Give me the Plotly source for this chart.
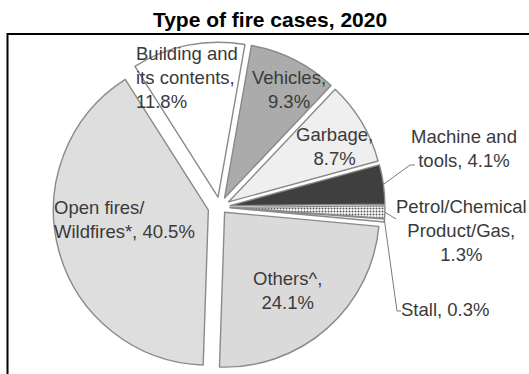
import math
import plotly.graph_objects as go

# ---- data ----
categories = ["Vehicles", "Garbage", "Machine and tools", "Petrol/Chemical Product/Gas",
              "Stall", "Others^", "Open fires/Wildfires*", "Building and its contents"]
values = [9.3, 8.7, 4.1, 1.3, 0.3, 24.1, 40.5, 11.8]
label_templates = ["Vehicles,<br>{}%", "Garbage,<br>{}%", "Machine and<br>tools, {}%",
                   "Petrol/Chemical<br>Product/Gas,<br>{}%", "Stall, {}%", "Others^,<br>{}%",
                   "Open fires/<br>Wildfires*, {}%", "Building and<br>its contents,<br>{}%"]
title_text = "Type of fire cases, 2020"

# ---- styles ----
colors = ["#ababab", "#efefef", "#3f3f3f", "#a3a3a3", "#ffffff", "#dadada", "#dedede", "#ffffff"]
patterns = ["", "", "", ".", "", "", "", ""]
pulls = [0.065, 0.065, 0.065, 0.065, 0.065, 0.045, 0.078, 0.065]
rotation = 10

W, H = 529, 374
dom_x = [53 / W, 387 / W]
dom_y = [0.0, 334 / H]

def P(px, py):
    return px / W, 1 - py / H

fig = go.Figure(go.Pie(
    labels=categories, values=values, sort=False, direction="clockwise",
    rotation=rotation, pull=pulls, textinfo="none", hoverinfo="skip",
    domain=dict(x=dom_x, y=dom_y),
    marker=dict(colors=colors, line=dict(color="#8a8a8a", width=1.4),
                pattern=dict(shape=patterns, fgcolor="#555555", size=3, solidity=0.35)),
    showlegend=False,
))

# pie geometry (as plotly computes it) to anchor leader lines on slices
w = W * (dom_x[1] - dom_x[0]); h = H * (dom_y[1] - dom_y[0])
r = min(w, h) / 2 / (1 + max(pulls))
cx = W * (dom_x[0] + dom_x[1]) / 2
cy = H * (1 - dom_y[0]) - h / 2
total = sum(values)

def arc_point(i, frac=0.5):
    start = sum(values[:i])
    ang = math.radians(rotation + 360 * (start + values[i] * frac) / total)
    mid = math.radians(rotation + 360 * (start + values[i] / 2) / total)
    pcx = cx + pulls[i] * r * math.sin(mid)
    pcy = cy - pulls[i] * r * math.cos(mid)
    return pcx + r * math.sin(ang), pcy - r * math.cos(ang)

label_font = dict(family="Liberation Sans, Arial, sans-serif", size=18.5, color="#3a3a3a")
# (x px, y px, xanchor, align)
placements = [
    (289, 90, "center", "center"),
    (334, 146, "center", "center"),
    (464, 148, "center", "center"),
    (461, 230, "center", "center"),
    (399, 309, "left", "left"),
    (287, 290, "center", "center"),
    (52, 219, "left", "left"),
    (134, 78, "left", "left"),
]
annotations = []
for tmpl, v, (px, py, xa, al) in zip(label_templates, values, placements):
    x, y = P(px, py)
    annotations.append(dict(text=tmpl.format(v), x=x, y=y, xref="paper", yref="paper",
                            xanchor=xa, yanchor="middle", align=al, showarrow=False,
                            font=label_font))

# leader lines
leader_ends = {2: [(410, 165), (415, 165)], 3: [(396, 219)], 4: [(397, 311), (401, 311)]}
shapes = []
for i, pts in leader_ends.items():
    sx, sy = arc_point(i)
    seq = [(sx, sy)] + pts
    path = "M " + " L ".join(f"{px / W:.5f},{1 - py / H:.5f}" for px, py in seq)
    shapes.append(dict(type="path", path=path, xref="paper", yref="paper",
                       line=dict(color="#7a7a7a", width=1)))

# frame around chart
fx0, fy1 = P(7.5, 34)
shapes.append(dict(type="rect", xref="paper", yref="paper", x0=fx0, x1=1.02, y0=-0.02, y1=fy1,
                   line=dict(color="#000000", width=2), fillcolor="rgba(0,0,0,0)"))

fig.update_layout(
    width=W, height=H, margin=dict(l=0, r=0, t=0, b=0),
    paper_bgcolor="white", plot_bgcolor="white",
    title=dict(text=f"<b>{title_text}</b>", x=270 / W, xanchor="center", y=1 - 20 / H,
               yanchor="middle", font=dict(family="Liberation Sans, Arial, sans-serif",
                                           size=21, color="#000000")),
    annotations=annotations, shapes=shapes,
)

fig.write_html("out.html")
